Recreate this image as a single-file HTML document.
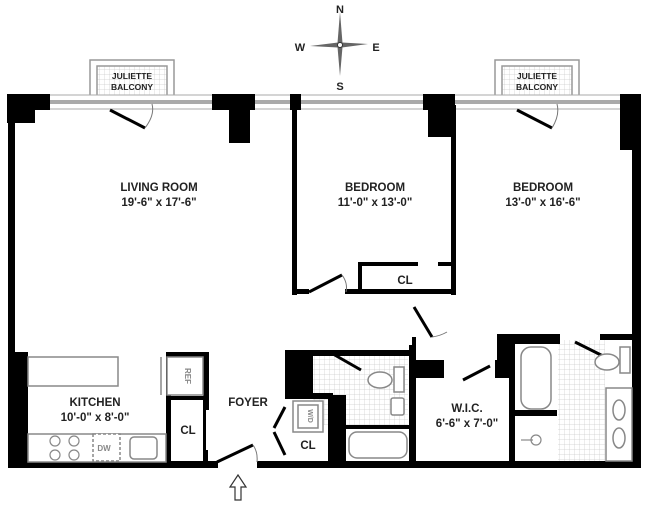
<!DOCTYPE html>
<html><head><meta charset="utf-8"><style>
html,body{margin:0;padding:0;background:#fff}
svg{display:block}
text{font-family:"Liberation Sans",sans-serif;font-weight:bold;fill:#222}
</style></head><body>
<svg width="650" height="509" viewBox="0 0 650 509" xmlns="http://www.w3.org/2000/svg">
<defs>
<pattern id="tile" width="5" height="5" patternUnits="userSpaceOnUse">
<path d="M5 0V5H0" fill="none" stroke="#ccc" stroke-width="0.7"/></pattern>
</defs>
<!-- compass -->
<g fill="#666">
<polygon points="340,12 342.5,43 337.5,43"/><polygon points="340,76 342.5,47 337.5,47"/>
<polygon points="310,46 338,42.5 338,47.5"/><polygon points="368,44 342,42.5 342,47.5"/>
</g>
<circle cx="340" cy="45" r="2.5" fill="#fff" stroke="#333"/>
<text x="340" y="13" font-size="11" text-anchor="middle">N</text>
<text x="340" y="90" font-size="11" text-anchor="middle">S</text>
<text x="300" y="51" font-size="11" text-anchor="middle">W</text>
<text x="376" y="51" font-size="11" text-anchor="middle">E</text>
<!-- balconies -->
<g fill="#fff" stroke="#999" stroke-width="1.5">
<rect x="90" y="60" width="84" height="36"/><rect x="97" y="66" width="70" height="30" fill="url(#tile)"/>
<rect x="495" y="60" width="84" height="36"/><rect x="502" y="66" width="70" height="30" fill="url(#tile)"/>
</g>
<text x="132" y="79" font-size="8.5" text-anchor="middle">JULIETTE</text>
<text x="132" y="90" font-size="8.5" text-anchor="middle">BALCONY</text>
<text x="537" y="79" font-size="8.5" text-anchor="middle">JULIETTE</text>
<text x="537" y="90" font-size="8.5" text-anchor="middle">BALCONY</text>
<!-- window band -->
<rect x="40" y="95" width="590" height="14" fill="#fff" stroke="#aaa"/>
<line x1="40" y1="101" x2="630" y2="101" stroke="#555" stroke-width="1"/>
<line x1="40" y1="103" x2="630" y2="103" stroke="#555" stroke-width="1"/>
<!-- tiles -->
<rect x="313" y="356" width="95" height="69" fill="url(#tile)"/>
<rect x="558" y="340" width="47" height="121" fill="url(#tile)"/>
<!-- walls -->
<g fill="#000">
<rect x="7" y="94" width="43" height="16"/><rect x="7" y="94" width="28" height="29"/>
<rect x="8" y="94" width="7" height="260"/><rect x="8" y="352" width="20" height="116"/>
<rect x="212" y="94" width="43" height="16"/><rect x="229" y="94" width="21" height="49"/>
<rect x="290" y="94" width="11" height="16"/>
<rect x="292" y="105" width="5" height="190"/>
<rect x="292" y="289" width="17" height="5"/><rect x="345" y="289" width="111" height="5"/>
<rect x="358" y="262" width="4" height="30"/><rect x="358" y="262" width="60" height="4"/><rect x="438" y="262" width="17" height="4"/>
<rect x="423" y="94" width="32" height="16"/><rect x="428" y="94" width="24" height="43"/>
<rect x="451" y="105" width="5" height="190"/>
<rect x="620" y="94" width="21" height="56"/><rect x="632" y="94" width="9" height="374"/>
<rect x="8" y="461" width="210" height="7"/><rect x="257" y="461" width="384" height="7"/>
<!-- kitchen closets -->
<rect x="166" y="352" width="43" height="5"/><rect x="166" y="352" width="5" height="110"/>
<rect x="203" y="352" width="6" height="58"/><rect x="166" y="396" width="43" height="4"/>
<rect x="203" y="450" width="5" height="12"/><rect x="203" y="410" width="3" height="45"/>
<!-- center block -->
<rect x="285" y="350" width="28" height="45"/><rect x="285" y="350" width="130" height="6"/>
<rect x="285" y="393" width="48" height="6"/>
<rect x="328" y="395" width="18" height="67"/>
<rect x="346" y="425" width="64" height="4"/>
<rect x="409" y="345" width="7" height="117"/><rect x="409" y="360" width="35" height="18"/>
<rect x="412" y="337" width="4" height="25"/>
<rect x="495" y="360" width="20" height="18"/>
<rect x="497" y="334" width="18" height="40"/><rect x="497" y="334" width="63" height="10"/>
<rect x="509" y="334" width="6" height="128"/><rect x="600" y="334" width="35" height="6"/>
<rect x="515" y="410" width="42" height="6"/>
</g>
<!-- doors -->
<g stroke="#000" stroke-width="3" fill="none">
<line x1="110" y1="110" x2="145" y2="128"/>
<line x1="517" y1="110" x2="552" y2="128"/>
<line x1="309" y1="292" x2="342" y2="275"/>
<line x1="414" y1="307" x2="432" y2="337"/>
<line x1="217" y1="462" x2="253" y2="445"/>
<line x1="333" y1="354" x2="361" y2="370"/>
<line x1="463" y1="380" x2="490" y2="366"/>
<line x1="575" y1="342" x2="603" y2="356"/>
<line x1="285" y1="407" x2="274" y2="428"/><line x1="274" y1="432" x2="285" y2="455"/>
</g>
<g stroke="#777" stroke-width="1" fill="none">
<path d="M145 128 Q155 115 152 104"/><path d="M552 128 Q560 115 557 104"/>
<path d="M342 275 Q348 283 346 292"/><path d="M253 445 Q258 452 257 462"/>
<path d="M432 337 Q440 336 447 332"/>
</g>
<!-- fixtures -->
<g fill="#fff" stroke="#888" stroke-width="1.5">
<rect x="28" y="357" width="90" height="29"/>
<rect x="167" y="357" width="36" height="38"/><line x1="161" y1="357" x2="161" y2="395"/>
<rect x="28" y="434" width="138" height="28"/>
<rect x="93" y="434" width="27" height="27" stroke-dasharray="3,2"/>
<rect x="130" y="437" width="27" height="22" rx="4"/>
<rect x="293" y="401" width="30" height="31"/><rect x="298" y="405" width="20" height="23"/>
<rect x="349" y="432" width="58" height="26" rx="8"/>
<rect x="521" y="347" width="30" height="62" rx="10"/>
<rect x="606" y="388" width="26" height="73"/>
<ellipse cx="380" cy="380" rx="12" ry="8"/><rect x="394" y="367" width="10" height="25"/>
<rect x="391" y="398" width="13" height="17" rx="2"/>
<ellipse cx="607" cy="362" rx="12" ry="8"/><rect x="620" y="347" width="10" height="26"/>
<ellipse cx="619" cy="410" rx="6" ry="10"/><ellipse cx="619" cy="438" rx="6" ry="10"/>
</g>
<g fill="none" stroke="#888" stroke-width="1.2">
<circle cx="55" cy="441" r="5"/><circle cx="74" cy="441" r="5"/><circle cx="55" cy="455" r="5"/><circle cx="74" cy="455" r="5"/>
<circle cx="536" cy="440" r="5"/><line x1="521" y1="440" x2="533" y2="440"/>
</g>
<!-- text -->
<g font-size="11.5" text-anchor="middle">
<text x="159" y="191">LIVING ROOM</text><text x="159" y="206">19'-6" x 17'-6"</text>
<text x="375" y="191">BEDROOM</text><text x="375" y="206">11'-0" x 13'-0"</text>
<text x="543" y="191">BEDROOM</text><text x="543" y="206">13'-0" x 16'-6"</text>
<text x="95" y="406">KITCHEN</text><text x="95" y="421">10'-0" x 8'-0"</text>
<text x="248" y="406">FOYER</text>
<text x="467" y="412">W.I.C.</text><text x="467" y="427">6'-6" x 7'-0"</text>
<text x="188" y="434">CL</text><text x="308" y="449">CL</text><text x="405" y="284">CL</text>
</g>
<text x="104" y="451" font-size="8" text-anchor="middle" style="fill:#888">DW</text>
<text x="185" y="376" font-size="8" text-anchor="middle" transform="rotate(90 185 376)" style="fill:#888">REF</text>
<text x="308" y="416" font-size="7" text-anchor="middle" transform="rotate(90 308 416)" style="fill:#888">W/D</text>
<!-- entry arrow -->
<path d="M238 475 L230 487 L235 487 L235 500 L241 500 L241 487 L246 487 Z" fill="#fff" stroke="#333" stroke-width="1.2"/>
</svg>
</body></html>
